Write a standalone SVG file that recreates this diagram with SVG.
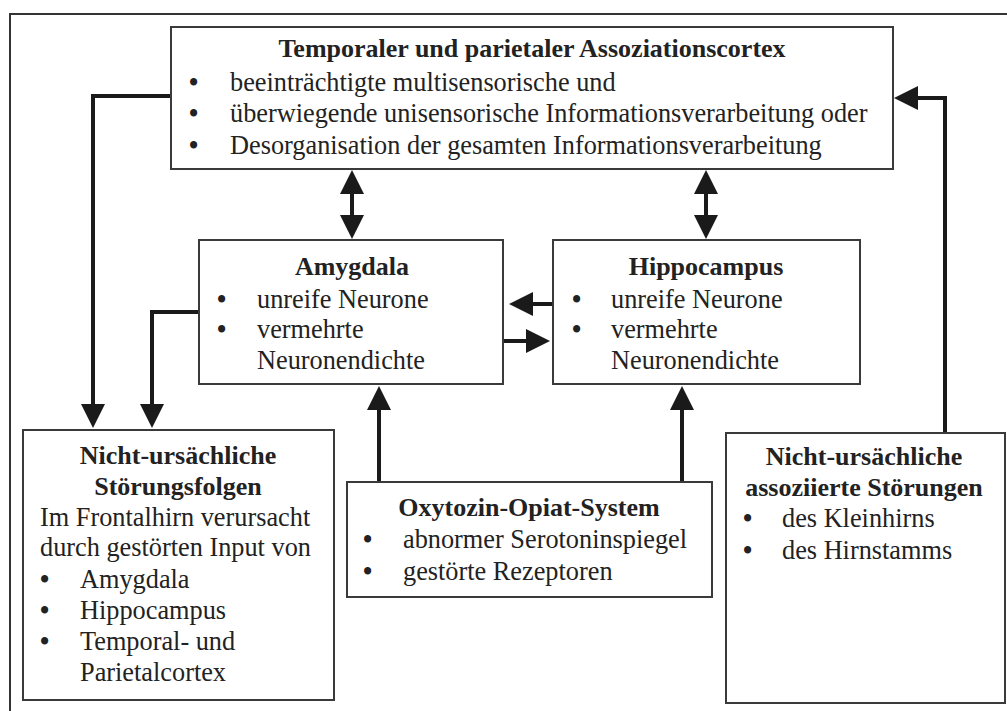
<svg xmlns="http://www.w3.org/2000/svg" width="1007" height="711" viewBox="0 0 1007 711">
<defs>
<style>
.box{fill:#fff;stroke:#3a3a3a;stroke-width:2}
.t{font-family:"Liberation Serif","Times New Roman",serif;font-size:26.3px;fill:#222}
.b{font-weight:bold;font-size:26px;text-anchor:middle}
.bu{font-family:"Liberation Serif","Times New Roman",serif;font-size:26.3px;font-weight:bold;fill:#222}
.con{fill:none;stroke:#1a1a1a;stroke-width:4}
.frame{stroke:#333;stroke-width:2;fill:none}
</style>
<marker id="ah" viewBox="0 0 24 24" refX="0" refY="12" markerWidth="24" markerHeight="24" markerUnits="userSpaceOnUse" orient="auto-start-reverse">
<path d="M0,0 L24,12 L0,24 z" fill="#1a1a1a"/>
</marker>
</defs>
<rect width="1007" height="711" fill="#fff"/>
<path class="frame" d="M1007,14 H10 V711"/>

<g id="connectors">
<path class="con" d="M171,96 H93 V404" marker-end="url(#ah)"/>
<path class="con" d="M199,312 H152 V404" marker-end="url(#ah)"/>
<path class="con" d="M945,433 V98 H918" marker-end="url(#ah)"/>
<path class="con" d="M379,482 V410" marker-end="url(#ah)"/>
<path class="con" d="M682,482 V410" marker-end="url(#ah)"/>
<path class="con" d="M553,304 H533" marker-end="url(#ah)"/>
<path class="con" d="M503,341 H526" marker-end="url(#ah)"/>
<path class="con" d="M352,194 V215" marker-start="url(#ah)" marker-end="url(#ah)"/>
<path class="con" d="M706,194 V215" marker-start="url(#ah)" marker-end="url(#ah)"/>
</g>

<g id="assoziationscortex">
<rect class="box" x="171" y="27" width="722" height="142"/>
<text class="t b" x="532" y="57">Temporaler und parietaler Assoziationscortex</text>
<text class="bu" x="189" y="91">•</text>
<text class="t" x="230" y="91">beeinträchtigte multisensorische und</text>
<text class="bu" x="189" y="122">•</text>
<text class="t" x="230" y="122">überwiegende unisensorische Informationsverarbeitung oder</text>
<text class="bu" x="189" y="154">•</text>
<text class="t" x="230" y="154">Desorganisation der gesamten Informationsverarbeitung</text>
</g>

<g id="amygdala">
<rect class="box" x="199" y="240" width="304" height="144"/>
<text class="t b" x="352" y="275">Amygdala</text>
<text class="bu" x="217" y="308">•</text>
<text class="t" x="257" y="308">unreife Neurone</text>
<text class="bu" x="217" y="338">•</text>
<text class="t" x="257" y="338">vermehrte</text>
<text class="t" x="257" y="369">Neuronendichte</text>
</g>

<g id="hippocampus">
<rect class="box" x="553" y="240" width="307" height="144"/>
<text class="t b" x="706" y="275">Hippocampus</text>
<text class="bu" x="572" y="308">•</text>
<text class="t" x="611" y="308">unreife Neurone</text>
<text class="bu" x="572" y="338">•</text>
<text class="t" x="611" y="338">vermehrte</text>
<text class="t" x="611" y="369">Neuronendichte</text>
</g>

<g id="stoerungsfolgen">
<rect class="box" x="23" y="430" width="311" height="270"/>
<text class="t b" x="178" y="464">Nicht-ursächliche</text>
<text class="t b" x="178" y="495">Störungsfolgen</text>
<text class="t" x="40" y="526">Im Frontalhirn verursacht</text>
<text class="t" x="40" y="556">durch gestörten Input von</text>
<text class="bu" x="40" y="588">•</text>
<text class="t" x="80" y="588">Amygdala</text>
<text class="bu" x="40" y="619">•</text>
<text class="t" x="80" y="619">Hippocampus</text>
<text class="bu" x="40" y="650">•</text>
<text class="t" x="80" y="650">Temporal- und</text>
<text class="t" x="80" y="681">Parietalcortex</text>
</g>

<g id="oxytozin">
<rect class="box" x="347" y="482" width="365" height="115"/>
<text class="t b" x="529" y="516">Oxytozin-Opiat-System</text>
<text class="bu" x="363" y="548">•</text>
<text class="t" x="403" y="548">abnormer Serotoninspiegel</text>
<text class="bu" x="363" y="580">•</text>
<text class="t" x="403" y="580">gestörte Rezeptoren</text>
</g>

<g id="assoziierte">
<rect class="box" x="726" y="433" width="279" height="270"/>
<text class="t b" x="864" y="465">Nicht-ursächliche</text>
<text class="t b" x="864" y="496">assoziierte Störungen</text>
<text class="bu" x="743" y="527">•</text>
<text class="t" x="782" y="527">des Kleinhirns</text>
<text class="bu" x="743" y="559">•</text>
<text class="t" x="782" y="559">des Hirnstamms</text>
</g>
</svg>
